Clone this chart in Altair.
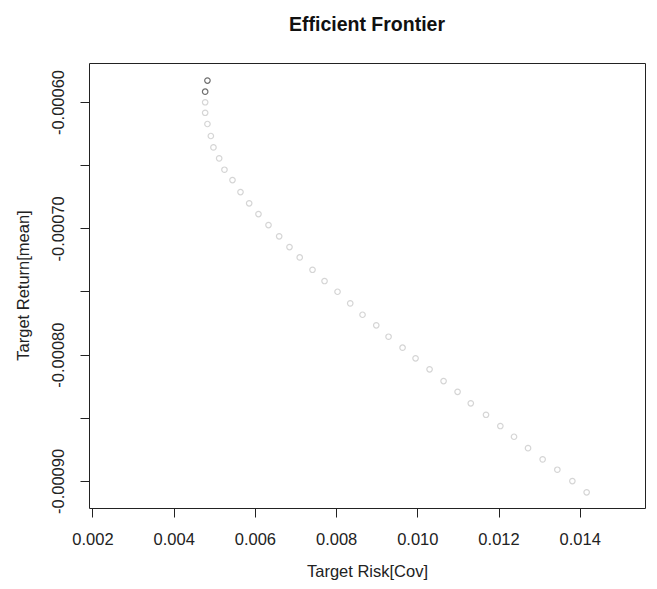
import altair as alt
import pandas as pd

# Efficient frontier points (target risk, target return)
risk = [0.004831, 0.004775, 0.004775, 0.004775, 0.004831, 0.004915, 0.004979,
        0.005120, 0.005250, 0.005448, 0.005645, 0.005859, 0.006088, 0.006335,
        0.006598, 0.006852, 0.007104, 0.007419, 0.007715, 0.008035, 0.008348,
        0.008651, 0.008989, 0.009292, 0.009637, 0.009957, 0.010302, 0.010647,
        0.010992, 0.011317, 0.011692, 0.012045, 0.012382, 0.012727, 0.013087,
        0.013449, 0.013819, 0.014171]
ret = [-0.0005830, -0.0005918, -0.0006002, -0.0006085, -0.0006174, -0.0006269,
       -0.0006359, -0.0006446, -0.0006536, -0.0006618, -0.0006713, -0.0006802,
       -0.0006887, -0.0006974, -0.0007063, -0.0007148, -0.0007230, -0.0007328,
       -0.0007417, -0.0007502, -0.0007594, -0.0007684, -0.0007768, -0.0007858,
       -0.0007945, -0.0008029, -0.0008116, -0.0008209, -0.0008294, -0.0008385,
       -0.0008476, -0.0008565, -0.0008650, -0.0008740, -0.0008829, -0.0008911,
       -0.0009001, -0.0009090]
highlighted = 2  # first points drawn dark

x_ticks = [0.002, 0.004, 0.006, 0.008, 0.010, 0.012, 0.014]
y_ticks = [-0.0006, -0.00065, -0.0007, -0.00075, -0.0008, -0.00085, -0.0009]
x_domain = [0.001914, 0.015608]
y_domain = [-0.0009214, -0.0005691]

df = pd.DataFrame({"risk": risk, "ret": ret, "idx": list(range(len(risk)))})

FONT = "Liberation Sans"
INK = "#222222"

chart = alt.Chart(df).mark_point(
    shape="circle", filled=False, size=30, strokeWidth=1.2
).encode(
    x=alt.X("risk:Q",
            scale=alt.Scale(domain=x_domain, nice=False, zero=False),
            axis=alt.Axis(values=x_ticks, format=".3f", title="Target Risk[Cov]",
                          grid=False, domain=False, tickSize=9, tickColor=INK,
                          labelPadding=14, labelFontSize=16.5, labelColor=INK,
                          labelFont=FONT, titleFont=FONT, titleFontSize=16.5,
                          titleFontWeight="normal", titleColor=INK,
                          titleBaseline="alphabetic", titleY=68,
                          labelFlush=False, labelOverlap=False)),
    y=alt.Y("ret:Q",
            scale=alt.Scale(domain=y_domain, nice=False, zero=False),
            axis=alt.Axis(values=y_ticks, title="Target Return[mean]",
                          labelExpr="abs(round(datum.value*100000)) % 10 == 0 ? (datum.value < 0 ? '-' : '') + format(abs(datum.value), '.5f') : ''",
                          grid=False, domain=False, tickSize=9, tickColor=INK,
                          labelAngle=270, labelAlign="center", labelBaseline="bottom",
                          labelPadding=14, labelFontSize=16.5, labelColor=INK,
                          labelFont=FONT, titleFont=FONT, titleFontSize=16.5,
                          titleFontWeight="normal", titleColor=INK,
                          titleX=-58, titleY=222, titleAlign="center",
                          titleBaseline="bottom",
                          labelFlush=False, labelOverlap=False)),
    stroke=alt.condition(f"datum.idx < {highlighted}", alt.value("#333333"), alt.value("#c4c4c4")),
).properties(
    width=556,
    height=445,
    autosize=alt.AutoSizeParams(type="none"),
    padding={"left": 81, "top": 55, "right": 4, "bottom": 73},
    title=alt.Title("Efficient Frontier", font=FONT, fontSize=19.5, fontWeight="bold",
                    color="#111111", anchor="middle", baseline="alphabetic", offset=13),
).configure_view(
    stroke=INK, strokeWidth=1
)

chart.save("out.html", embed_options={"renderer": "svg", "actions": False})
